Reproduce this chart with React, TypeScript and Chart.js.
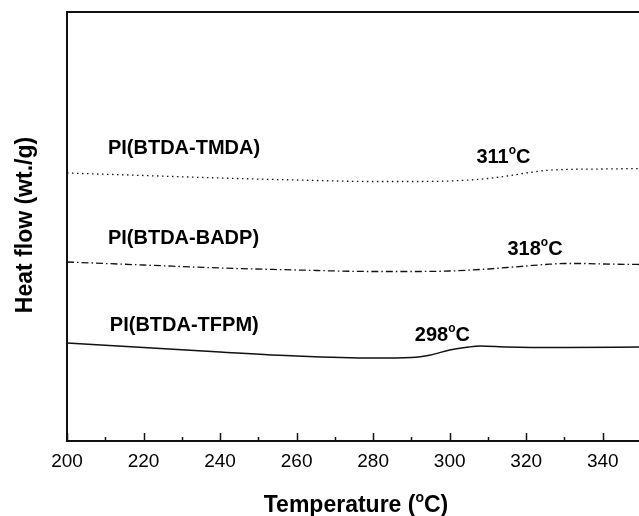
import React, { useEffect, useRef } from "react";
import { Chart, registerables } from "chart.js";
Chart.register(...registerables);

// Temperature (°C) and heat flow (arbitrary units, offset per curve)
const tmdaT = [200, 220, 240, 260, 280, 290, 300, 305, 310, 315, 320, 325, 330, 340, 350];
const tmdaH = [26.8, 26.55, 26.3, 26.1, 25.95, 25.95, 26.0, 26.1, 26.25, 26.5, 26.8, 27.05, 27.15, 27.2, 27.25];

const badpT = [200, 220, 240, 260, 280, 290, 300, 310, 315, 320, 325, 330, 335, 340, 350];
const badpH = [17.9, 17.6, 17.3, 17.1, 16.95, 16.95, 17.0, 17.2, 17.35, 17.5, 17.65, 17.75, 17.75, 17.7, 17.65];

const tfpmT = [200, 220, 240, 260, 280, 290, 295, 300, 305, 308, 315, 330, 350];
const tfpmH = [9.8, 9.35, 8.9, 8.5, 8.3, 8.35, 8.6, 9.1, 9.4, 9.5, 9.4, 9.35, 9.4];

const majorTicks = [200, 220, 240, 260, 280, 300, 320, 340];
const minorTicks = [210, 230, 250, 270, 290, 310, 330, 350];

// Curve labels: text, whether it is a temperature (gets °C), x (°C), y (a.u.)
const labelTexts = ["PI(BTDA-TMDA)", "311", "PI(BTDA-BADP)", "318", "PI(BTDA-TFPM)", "298"];
const labelIsTemp = [false, true, false, true, false, true];
const labelX = [210.7, 307, 210.7, 315.1, 211.2, 290.9];
const labelY = [29.3, 28.6, 20.3, 19.4, 11.6, 10.8];

const FONT = "'Liberation Sans', Arial, sans-serif";

function drawDegText(ctx: CanvasRenderingContext2D, pre: string, post: string, x: number, y: number, size: number, align: "left" | "center") {
  ctx.font = `bold ${size}px ${FONT}`;
  const w1 = ctx.measureText(pre).width;
  const supSize = Math.round(size * 0.62);
  ctx.font = `bold ${supSize}px ${FONT}`;
  const ws = ctx.measureText("o").width;
  ctx.font = `bold ${size}px ${FONT}`;
  const w2 = ctx.measureText(post).width;
  const total = w1 + ws + w2;
  const sx = align === "center" ? x - total / 2 : x;
  ctx.textAlign = "left";
  ctx.textBaseline = "alphabetic";
  ctx.fillText(pre, sx, y);
  ctx.font = `bold ${supSize}px ${FONT}`;
  ctx.fillText("o", sx + w1, y - size * 0.45);
  ctx.font = `bold ${size}px ${FONT}`;
  ctx.fillText(post, sx + w1 + ws, y);
}

const decorPlugin = {
  id: "decor",
  afterDatasetsDraw(chart: any) {
    const ctx: CanvasRenderingContext2D = chart.ctx;
    const { left, top, right, bottom } = chart.chartArea;
    const xs = chart.scales.x;
    const ys = chart.scales.y;
    ctx.save();
    ctx.fillStyle = "#000";
    ctx.strokeStyle = "#111";
    ctx.lineWidth = 2;
    ctx.beginPath();
    ctx.moveTo(right + 2, top);
    ctx.lineTo(left, top);
    ctx.lineTo(left, bottom);
    ctx.lineTo(right + 2, bottom);
    ctx.stroke();

    ctx.lineWidth = 1.5;
    ctx.beginPath();
    majorTicks.forEach((t) => {
      const px = Math.round(xs.getPixelForValue(t)) + 0.5;
      ctx.moveTo(px, bottom);
      ctx.lineTo(px, bottom - 8);
    });
    minorTicks.forEach((t) => {
      const px = Math.round(xs.getPixelForValue(t)) + 0.5;
      ctx.moveTo(px, bottom);
      ctx.lineTo(px, bottom - 4);
    });
    ctx.stroke();

    ctx.font = `19px ${FONT}`;
    ctx.textAlign = "center";
    ctx.textBaseline = "middle";
    majorTicks.forEach((t) => {
      ctx.fillText(String(t), xs.getPixelForValue(t), 462);
    });

    // axis titles
    drawDegText(ctx, "Temperature (", "C)", 356, 512, 23, "center");
    ctx.save();
    ctx.translate(32, 225);
    ctx.rotate(-Math.PI / 2);
    ctx.font = `bold 23px ${FONT}`;
    ctx.textAlign = "center";
    ctx.textBaseline = "alphabetic";
    ctx.fillText("Heat flow (wt./g)", 0, 0);
    ctx.restore();

    // curve labels
    labelTexts.forEach((txt, i) => {
      const px = xs.getPixelForValue(labelX[i]);
      const py = ys.getPixelForValue(labelY[i]);
      if (labelIsTemp[i]) {
        drawDegText(ctx, txt, "C", px, py + 7.5, 20, "left");
      } else {
        ctx.font = `bold 20px ${FONT}`;
        ctx.textAlign = "left";
        ctx.textBaseline = "middle";
        ctx.fillText(txt, px, py);
      }
    });
    ctx.restore();
  },
};

export default function App() {
  const ref = useRef<HTMLCanvasElement>(null);
  useEffect(() => {
    if (!ref.current) return;
    const mk = (t: number[], h: number[]) => t.map((x, i) => ({ x, y: h[i] }));
    const chart = new Chart(ref.current, {
      type: "line",
      data: {
        datasets: [
          {
            label: "PI(BTDA-TMDA)",
            data: mk(tmdaT, tmdaH),
            borderColor: "#111",
            borderWidth: 1.3,
            borderDash: [1.5, 3.5],
            pointRadius: 0,
            cubicInterpolationMode: "monotone",
          },
          {
            label: "PI(BTDA-BADP)",
            data: mk(badpT, badpH),
            borderColor: "#111",
            borderWidth: 1.3,
            borderDash: [7, 3, 1.5, 3],
            pointRadius: 0,
            cubicInterpolationMode: "monotone",
          },
          {
            label: "PI(BTDA-TFPM)",
            data: mk(tfpmT, tfpmH),
            borderColor: "#111",
            borderWidth: 1.4,
            pointRadius: 0,
            cubicInterpolationMode: "monotone",
          },
        ],
      },
      options: {
        animation: false,
        responsive: false,
        events: [],
        layout: { padding: { left: 67, top: 12, right: 1, bottom: 75 } },
        plugins: { legend: { display: false }, tooltip: { enabled: false } },
        scales: {
          x: { type: "linear", min: 200, max: 350, display: false },
          y: { type: "linear", min: 0, max: 42.9, display: false },
        },
      },
      plugins: [decorPlugin],
    } as any);
    return () => chart.destroy();
  }, []);
  return (
    <div style={{ position: "absolute", left: 0, top: 0, width: 639, height: 516, overflow: "hidden", background: "#fff" }}>
      <canvas ref={ref} width={642} height={516} style={{ display: "block" }} />
    </div>
  );
}
